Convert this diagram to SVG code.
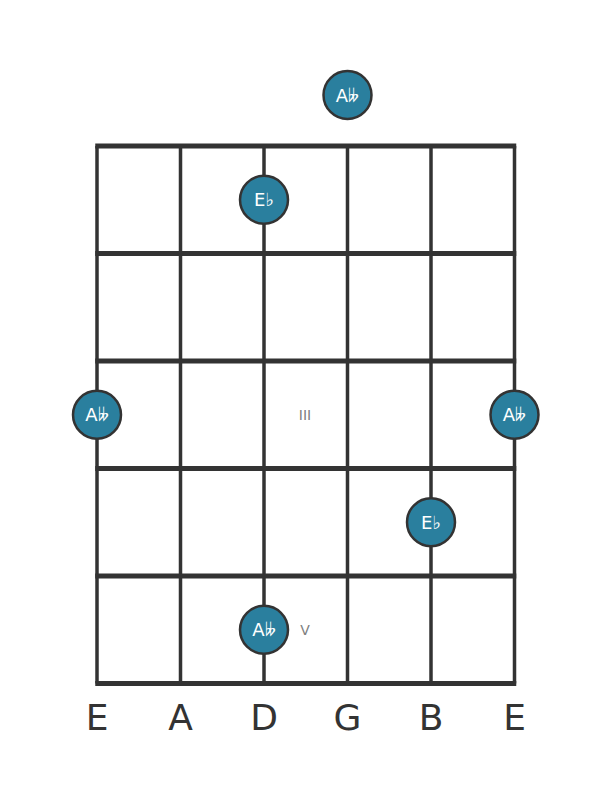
<svg xmlns="http://www.w3.org/2000/svg" width="611" height="801" viewBox="0 0 611 801">
<style>
.str{stroke:#333;stroke-width:3.5;}
.fret{stroke:#333;stroke-width:5;}
.dot circle{fill:#2a7f9e;stroke:#333;stroke-width:2.5;}
.dot text{fill:#fff;font-family:"DejaVu Sans",sans-serif;font-size:18px;text-anchor:middle;dominant-baseline:central;}
.lbl{fill:#333;font-family:"DejaVu Sans",sans-serif;font-size:36px;text-anchor:middle;}
.pos{fill:#808080;font-family:"DejaVu Sans",sans-serif;font-size:14px;text-anchor:middle;dominant-baseline:central;}
</style>
<rect width="611" height="801" fill="#fff"/>
<g id="grid">
<line class="str" x1="97" y1="146" x2="97" y2="683.5"/>
<line class="str" x1="180.5" y1="146" x2="180.5" y2="683.5"/>
<line class="str" x1="264" y1="146" x2="264" y2="683.5"/>
<line class="str" x1="347.5" y1="146" x2="347.5" y2="683.5"/>
<line class="str" x1="431" y1="146" x2="431" y2="683.5"/>
<line class="str" x1="514.5" y1="146" x2="514.5" y2="683.5"/>
<line class="fret" x1="95.25" y1="146" x2="516.25" y2="146"/>
<line class="fret" x1="95.25" y1="253.5" x2="516.25" y2="253.5"/>
<line class="fret" x1="95.25" y1="361" x2="516.25" y2="361"/>
<line class="fret" x1="95.25" y1="468.5" x2="516.25" y2="468.5"/>
<line class="fret" x1="95.25" y1="576" x2="516.25" y2="576"/>
<line class="fret" x1="95.25" y1="683.5" x2="516.25" y2="683.5"/>
</g>
<g id="labels">
<text class="lbl" x="97" y="730">E</text>
<text class="lbl" x="180.5" y="730">A</text>
<text class="lbl" x="264" y="730">D</text>
<text class="lbl" x="347.5" y="730">G</text>
<text class="lbl" x="431" y="730">B</text>
<text class="lbl" x="514.5" y="730">E</text>
</g>
<g id="positions">
<text class="pos" x="305" y="415">III</text>
<text class="pos" x="305" y="630">V</text>
</g>
<g id="n1" class="dot"><circle cx="347.5" cy="95" r="24"/><text x="347.5" y="95">A𝄫</text></g>
<g id="n2" class="dot"><circle cx="264" cy="199.75" r="24"/><text x="264" y="199.75">E♭</text></g>
<g id="n3" class="dot"><circle cx="97" cy="414.75" r="24"/><text x="97" y="414.75">A𝄫</text></g>
<g id="n4" class="dot"><circle cx="514.5" cy="414.75" r="24"/><text x="514.5" y="414.75">A𝄫</text></g>
<g id="n5" class="dot"><circle cx="431" cy="522.25" r="24"/><text x="431" y="522.25">E♭</text></g>
<g id="n6" class="dot"><circle cx="264" cy="629.75" r="24"/><text x="264" y="629.75">A𝄫</text></g>
</svg>
